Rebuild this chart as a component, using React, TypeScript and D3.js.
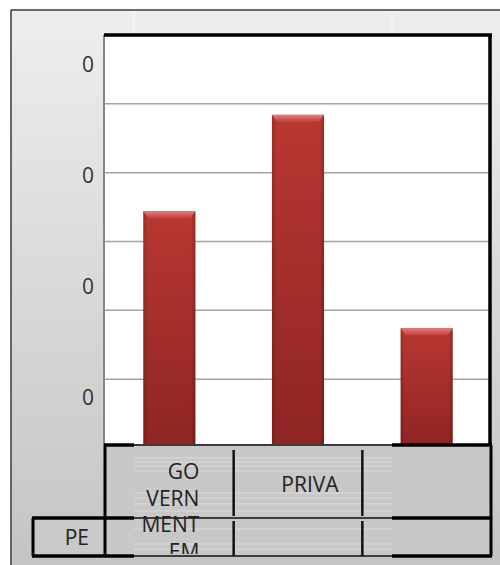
import React, { useRef, useEffect } from 'react';
import * as d3 from 'd3';

// data
const categories = ['GOVERNMENT EMPLOYEE', 'PRIVATE', ''];
const categoryLines = [['GO', 'VERN', 'MENT', 'EM'], ['PRIVA'], []];
const values = [0.344, 0.484, 0.174];
const seriesName = 'PE';
const gridTicks = [0, 0.1, 0.2, 0.3, 0.4, 0.5, 0.6];
const labelTicks = [0.074, 0.235, 0.396, 0.557];

export default function App(): JSX.Element {
  const divRef = useRef<HTMLDivElement>(null);

  useEffect(() => {
    const divEle = divRef.current;
    if (divEle == null) {
      return;
    }
    d3.select(divEle).selectAll('*').remove();

    const W = 500;
    const H = 565;
    const plot = { left: 104, right: 491, top: 35, bottom: 448 };
    const table = { top: 445, mid: 518, bottom: 556, seamL: 134, seamR: 392 };
    const font = '"Open Sans", "Noto Sans", sans-serif';

    const svg = d3
      .select(divEle)
      .append('svg')
      .attr('width', W)
      .attr('height', H)
      .style('position', 'absolute')
      .style('left', '0px')
      .style('top', '0px');

    const defs = svg.append('defs');
    const bg = defs.append('linearGradient').attr('id', 'bg').attr('x1', 0).attr('y1', 0).attr('x2', 0).attr('y2', 1);
    bg.append('stop').attr('offset', '0%').attr('stop-color', '#efeeee');
    bg.append('stop').attr('offset', '100%').attr('stop-color', '#c4c4c4');

    const barG = defs.append('linearGradient').attr('id', 'barV').attr('x1', 0).attr('y1', 0).attr('x2', 0).attr('y2', 1);
    barG.append('stop').attr('offset', '0%').attr('stop-color', '#b93731');
    barG.append('stop').attr('offset', '100%').attr('stop-color', '#8d2523');

    const barH = defs.append('linearGradient').attr('id', 'barH').attr('x1', 0).attr('y1', 0).attr('x2', 1).attr('y2', 0);
    barH.append('stop').attr('offset', '0%').attr('stop-color', '#000').attr('stop-opacity', 0.18);
    barH.append('stop').attr('offset', '8%').attr('stop-color', '#000').attr('stop-opacity', 0);
    barH.append('stop').attr('offset', '92%').attr('stop-color', '#000').attr('stop-opacity', 0);
    barH.append('stop').attr('offset', '100%').attr('stop-color', '#000').attr('stop-opacity', 0.22);

    const bevel = defs.append('linearGradient').attr('id', 'bevel').attr('x1', 0).attr('y1', 0).attr('x2', 0).attr('y2', 1);
    bevel.append('stop').attr('offset', '0%').attr('stop-color', '#ea7b78');
    bevel.append('stop').attr('offset', '100%').attr('stop-color', '#c1403b');

    defs
      .append('clipPath')
      .attr('id', 'tableClip')
      .append('rect')
      .attr('x', plot.left)
      .attr('y', table.top)
      .attr('width', plot.right - plot.left)
      .attr('height', table.bottom - table.top - 2);

    // chart background
    svg
      .append('rect')
      .attr('x', 11)
      .attr('y', 10)
      .attr('width', W - 11)
      .attr('height', H - 10)
      .attr('fill', 'url(#bg)');
    svg.append('line').attr('x1', 11).attr('y1', 10).attr('x2', W).attr('y2', 10).attr('stroke', '#3a3a3a').attr('stroke-width', 1.5);
    svg.append('line').attr('x1', 11).attr('y1', 10).attr('x2', 11).attr('y2', H).attr('stroke', '#3a3a3a').attr('stroke-width', 1.5);
    [table.seamL, table.seamR].forEach((sx) => {
      svg.append('line').attr('x1', sx).attr('y1', 11).attr('x2', sx).attr('y2', plot.top).attr('stroke', '#fafafa').attr('stroke-width', 1);
    });

    // plot area
    svg
      .append('rect')
      .attr('x', plot.left)
      .attr('y', plot.top)
      .attr('width', plot.right - plot.left)
      .attr('height', plot.bottom - plot.top)
      .attr('fill', '#ffffff');

    const x = d3.scaleBand().domain(categories).range([105, 491]);
    const y = d3.scaleLinear().domain([0, 0.6]).range([plot.bottom, plot.top]);

    // gridlines
    svg
      .selectAll()
      .data(gridTicks)
      .join('line')
      .attr('x1', plot.left)
      .attr('x2', plot.right)
      .attr('y1', (d) => y(d))
      .attr('y2', (d) => y(d))
      .attr('stroke', '#a3a3a3')
      .attr('stroke-width', 1.5);

    // y labels
    svg
      .selectAll()
      .data(labelTicks)
      .join('text')
      .attr('x', 94)
      .attr('y', (d) => y(d))
      .attr('dy', '0.36em')
      .attr('text-anchor', 'end')
      .style('font-family', font)
      .style('font-size', '21px')
      .attr('fill', '#333')
      .text((d) => String(Math.trunc(d)));

    // bars
    const barW = x.bandwidth() * 0.405;
    const bars = svg
      .selectAll()
      .data(values)
      .join('g')
      .attr('transform', (d, i) => `translate(${(x(categories[i]) as number) + (x.bandwidth() - barW) / 2},0)`);
    bars
      .append('rect')
      .attr('x', 0)
      .attr('y', (d) => y(d))
      .attr('width', barW)
      .attr('height', (d) => y(0) - y(d))
      .attr('fill', 'url(#barV)');
    bars
      .append('rect')
      .attr('x', 0)
      .attr('y', (d) => y(d))
      .attr('width', barW)
      .attr('height', (d) => y(0) - y(d))
      .attr('fill', 'url(#barH)');
    bars
      .append('polygon')
      .attr('points', (d) => {
        const t = y(d);
        return `0,${t} ${barW},${t} ${barW - 5},${t + 7} 5,${t + 7}`;
      })
      .attr('fill', 'url(#bevel)');

    // plot borders
    svg.append('line').attr('x1', plot.left).attr('y1', plot.top).attr('x2', plot.left).attr('y2', table.top).attr('stroke', '#858585').attr('stroke-width', 2);
    svg.append('line').attr('x1', plot.left).attr('y1', plot.top).attr('x2', plot.right + 1).attr('y2', plot.top).attr('stroke', '#000').attr('stroke-width', 3.5);
    svg.append('line').attr('x1', plot.right - 1).attr('y1', plot.top).attr('x2', plot.right - 1).attr('y2', table.top).attr('stroke', '#000').attr('stroke-width', 3.5);

    // data table
    svg
      .append('rect')
      .attr('x', plot.left)
      .attr('y', table.top)
      .attr('width', plot.right - plot.left)
      .attr('height', table.bottom - table.top)
      .attr('fill', '#c8c8c8');
    svg
      .append('rect')
      .attr('x', 32)
      .attr('y', table.mid)
      .attr('width', plot.left - 32)
      .attr('height', table.bottom - table.mid)
      .attr('fill', '#c9c9c9');

    const streaks = [458, 462, 466, 471, 493, 498, 504, 511, 529, 544, 549];
    svg
      .selectAll()
      .data(streaks)
      .join('line')
      .attr('x1', table.seamL)
      .attr('x2', table.seamR)
      .attr('y1', (d) => d)
      .attr('y2', (d) => d)
      .attr('stroke', '#e6e6e6')
      .attr('stroke-width', 1)
      .attr('stroke-opacity', 0.7);

    // row lines: thin in the middle, thick at the ends
    [table.top, table.mid, table.bottom].forEach((ry) => {
      svg.append('line').attr('x1', plot.left).attr('x2', plot.right).attr('y1', ry).attr('y2', ry).attr('stroke', '#3c3c3c').attr('stroke-width', 2);
      svg.append('line').attr('x1', table.seamR).attr('x2', plot.right + 1).attr('y1', ry).attr('y2', ry).attr('stroke', '#000').attr('stroke-width', 3.5);
    });
    [table.mid, table.bottom].forEach((ry) => {
      svg.append('line').attr('x1', 32).attr('x2', table.seamL).attr('y1', ry).attr('y2', ry).attr('stroke', '#000').attr('stroke-width', 3.5);
    });
    svg.append('line').attr('x1', plot.left).attr('x2', table.seamL).attr('y1', table.top).attr('y2', table.top).attr('stroke', '#000').attr('stroke-width', 3.5);

    // column lines
    svg.append('line').attr('x1', 33).attr('x2', 33).attr('y1', table.mid).attr('y2', table.bottom).attr('stroke', '#000').attr('stroke-width', 3);
    svg.append('line').attr('x1', 105).attr('x2', 105).attr('y1', table.top).attr('y2', table.bottom).attr('stroke', '#000').attr('stroke-width', 3);
    svg.append('line').attr('x1', plot.right).attr('x2', plot.right).attr('y1', table.top).attr('y2', table.bottom).attr('stroke', '#000').attr('stroke-width', 3);
    categories.slice(1).forEach((c) => {
      const cx = x(c) as number;
      svg.append('line').attr('x1', cx).attr('x2', cx).attr('y1', table.top + 5).attr('y2', table.mid - 2).attr('stroke', '#111').attr('stroke-width', 2.5);
      svg.append('line').attr('x1', cx).attr('x2', cx).attr('y1', table.mid + 3).attr('y2', table.bottom).attr('stroke', '#111').attr('stroke-width', 2.5);
    });

    // category labels (wrapped, overflowing the first row)
    const labels = svg.append('g').attr('clip-path', 'url(#tableClip)');
    categoryLines.forEach((lines, i) => {
      const cx = (x(categories[i]) as number) + x.bandwidth() / 2;
      const multi = lines.length > 1;
      labels
        .selectAll(null)
        .data(lines)
        .join('text')
        .attr('x', multi ? cx + 30 : cx + 12)
        .attr('y', (d, j) => (multi ? 479 + j * 26.7 : 492))
        .attr('text-anchor', multi ? 'end' : 'middle')
        .style('font-family', font)
        .style('font-size', '21px')
        .attr('fill', '#222')
        .text((d) => d);
    });

    // series name
    svg
      .append('text')
      .attr('x', 89)
      .attr('y', 545)
      .attr('text-anchor', 'end')
      .style('font-family', font)
      .style('font-size', '21px')
      .attr('fill', '#222')
      .text(seriesName);
  }, []);

  return <div ref={divRef} style={{ width: 500, height: 565 }} />;
}
